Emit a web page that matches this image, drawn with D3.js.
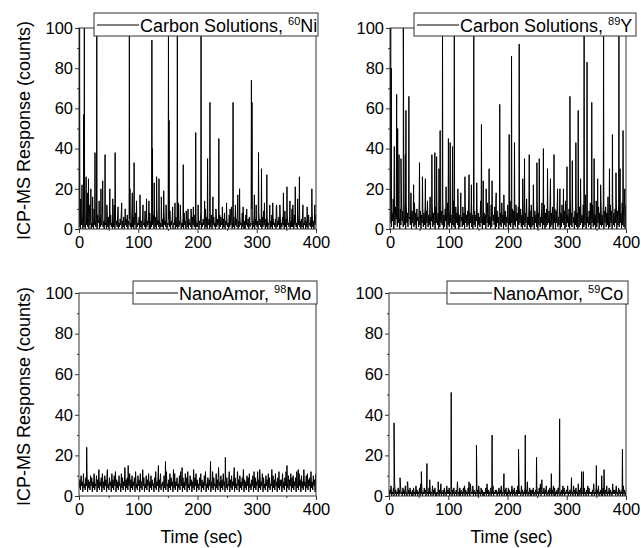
<!DOCTYPE html>
<html><head><meta charset="utf-8">
<script src="https://cdn.jsdelivr.net/npm/d3@7"></script>
<style>body{margin:0;background:#fff}svg{display:block}text{font-family:"Liberation Sans",Arial,sans-serif;fill:#000}</style>
</head><body><svg id="c" width="641" height="548"></svg>
<script>
// ---- data (seconds, counts) ----
const yTicks = [0,20,40,60,80,100];
const yMinor = [10,30,50,70,90];
const xTicks = [0,100,200,300,400];
const xMinor = [50,150,250,350];
const baseStep = 1; // baseline sample spacing in seconds

const niBase = [
1,5,0,3,2,7,0,4,1,9,0,3,2,6,1,4,0,8,2,5, 0,3,1,6,0,10,2,4,1,5,0,7,3,4,0,6,1,3,2,8,
1,4,0,5,2,3,0,9,1,6,0,4,2,7,1,3,0,5,1,12, 0,6,2,4,1,8,0,3,1,5,2,9,0,4,1,6,0,3,2,5,
1,7,0,4,2,5,1,3,0,11,1,6,0,4,2,8,0,5,1,3, 2,6,0,5,1,4,0,7,2,3,1,9,0,5,1,4,2,6,0,8,
0,4,1,3,2,7,0,5,1,6,0,10,2,4,1,5,0,3,1,7, 1,5,0,8,2,4,1,6,0,3,2,5,1,9,0,4,2,6,0,3,
2,4,0,6,1,5,0,13,1,4,2,7,0,3,1,5,0,8,2,4, 0,7,1,4,0,5,2,3,1,9,0,6,2,4,1,7,0,5,1,3,
1,6,0,4,2,8,0,3,1,5,2,4,0,10,1,6,0,3,2,5, 0,5,1,7,0,4,2,6,1,3,0,9,1,5,2,4,0,7,1,6,
2,3,0,5,1,8,0,4,2,6,1,3,0,7,1,5,2,11,0,4, 1,6,0,3,2,5,1,9,0,4,1,6,2,3,0,8,1,5,0,4,
0,7,2,4,1,5,0,6,1,3,2,10,0,4,1,7,0,5,2,3, 1,4,0,8,2,5,1,3,0,6,1,9,2,4,0,5,1,7,0,3,
2,5,0,4,1,7,0,6,2,3,1,5,0,12,1,4,2,6,0,8, 0,3,1,6,2,4,0,9,1,5,0,7,2,3,1,6,0,4,1,10,
1,5,0,7,2,4,1,3,0,8,2,6,1,4,0,5,1,9,0,3, 2,6,0,4,1,5,0,7,2,3,1,6,0,9,1,4,0,5,2,7];
const niSpikes = [[1,100],[3,15],[5,22],[8,57],[9,100],[12,26],[14,18],[16,25],[18,12],[20,20],[23,16],[27,38],[30,100],
 [34,14],[37,20],[40,24],[44,37],[47,12],[52,20],[57,15],[61,38],[66,11],[72,13],[78,10],
 [85,100],[86,20],[90,18],[93,33],[97,14],[103,17],[108,12],[114,15],[118,14],[123,94],[124,40],[127,23],[131,26],[135,25],
 [139,16],[143,19],[147,12],[151,100],[152,54],[158,11],[162,13],
 [166,100],[171,12],[176,32],[181,9],[184,10],[189,10],[193,11],[197,48],[201,12],[206,100],[212,14],[217,35],[221,63],
 [226,16],[231,10],[236,45],[242,11],[249,13],[255,10],[260,63],[264,12],[268,17],[271,20],[277,11],[283,10],[291,74],
 [292,63],[296,17],[299,12],[303,38],[308,30],[313,13],[317,27],[322,12],[327,13],[333,11],[339,12],[345,18],[351,21],
 [356,14],[361,12],[365,21],[369,15],[372,26],[378,12],[385,11],[393,20],[398,12]];

const yBase = [
3,12,1,8,4,15,0,9,2,11,5,7,1,14,3,6,0,10,2,13, 4,9,1,16,2,7,0,12,3,8,1,11,5,6,2,18,0,9,3,7,
1,13,2,8,0,10,4,6,1,14,2,9,0,7,3,12,1,8,2,11, 0,9,3,14,1,7,2,10,0,6,4,13,1,8,2,9,0,11,3,7,
2,8,0,12,1,6,3,9,2,15,0,7,1,10,4,8,0,13,2,6, 1,10,3,7,0,9,2,14,1,6,0,11,3,8,2,12,0,7,1,9,
4,6,1,11,2,8,0,13,3,7,1,9,2,16,0,8,3,10,1,7, 0,12,2,9,1,7,4,11,0,8,2,6,1,14,3,9,0,10,2,8,
2,7,0,10,3,13,1,8,2,6,0,12,1,9,4,7,2,11,0,15, 1,9,3,6,0,11,2,8,1,13,3,7,0,10,2,9,1,6,3,12,
0,8,2,14,1,7,3,10,0,9,2,6,1,12,4,8,0,11,2,7, 3,10,1,7,0,13,2,9,1,8,3,15,0,6,2,11,1,9,0,12,
1,6,2,11,0,9,3,7,1,14,0,8,2,10,1,6,3,13,0,9, 2,12,0,8,1,10,2,7,3,9,0,16,1,8,2,11,0,7,3,10,
0,9,3,13,1,6,2,11,0,8,1,12,3,7,2,9,0,14,1,8, 3,7,1,10,0,15,2,8,1,11,3,6,0,9,2,13,1,8,0,10,
1,11,2,9,3,7,0,12,1,8,2,17,0,10,3,6,1,9,2,13, 0,8,3,12,1,10,2,7,0,14,1,9,3,11,0,8,2,15,1,7,
2,13,0,9,3,11,1,8,2,16,0,10,1,12,3,9,0,14,2,8, 1,10,3,15,0,9,2,12,1,18,3,8,0,13,2,11,1,16,0,12];
const ySpikes = [[0.5,32],[1.2,100],[2.3,80],[7.3,41],[11.3,67],[13,50],[15.3,37],[18.6,35],[22.6,100],[26,37],[27,59],
 [32,66],[40,22],[50,33],[55,26],[60,25],[68,16],[71,37],[76,38],[79,36],[83,30],[85,49],[89,100],[95,21],[99,45],
 [102,43],[106,41],[109,100],[115,20],[120,18],[127,26],[134,27],[138,22],[142,100],[147,23],[155,52],[158,24],
 [163,20],[168,30],[173,24],[180,18],[186,62],[193,17],[202,47],[206,86],[211,43],[219,92],[225,25],[228,35],
 [236,37],[243,22],[249,33],[253,35],[260,40],[267,30],[272,25],[278,37],[284,20],[288,20],[294,20],[300,31],
 [305,66],[309,34],[315,43],[319,59],[323,25],[329,100],[334,83],[342,63],[346,35],[352,25],[357,22],[362,100],
 [372,30],[377,47],[383,28],[388,100],[390,30],[395,49],[398,20]];

const moBase = [
4,8,3,10,5,7,2,11,4,6,3,9,5,12,2,8,4,7,3,10, 5,9,2,7,4,11,3,6,5,10,2,8,4,13,3,7,5,9,2,11,
4,7,3,10,5,8,2,12,4,6,3,9,5,7,2,11,4,8,3,10, 5,12,2,8,4,7,3,10,5,6,2,11,4,9,3,7,5,14,2,8,
4,9,3,6,5,11,2,8,4,10,3,7,5,9,2,12,4,6,3,10, 5,8,2,11,4,7,3,13,5,9,2,6,4,10,3,8,5,11,2,7,
4,10,3,8,5,6,2,9,4,12,3,7,5,10,2,8,4,11,3,6, 5,7,2,10,4,9,3,12,5,6,2,8,4,11,3,9,5,7,2,13,
4,11,3,7,5,9,2,6,4,10,3,12,5,8,2,9,4,7,3,11, 5,9,2,12,4,6,3,10,5,8,2,7,4,13,3,9,5,11,2,8,
4,6,3,9,5,11,2,8,4,7,3,10,5,12,2,6,4,9,3,8, 5,10,2,7,4,12,3,9,5,6,2,11,4,8,3,14,5,7,2,10,
4,8,3,11,5,7,2,10,4,9,3,6,5,12,2,8,4,10,3,7, 5,11,2,9,4,6,3,12,5,8,2,10,4,7,3,9,5,13,2,8,
4,7,3,10,5,9,2,11,4,6,3,8,5,10,2,12,4,9,3,7, 5,12,2,8,4,10,3,7,5,11,2,9,4,6,3,10,5,8,2,11,
4,9,3,6,5,13,2,10,4,8,3,11,5,7,2,9,4,12,3,8, 5,8,2,11,4,7,3,9,5,12,2,6,4,10,3,8,5,11,2,9,
4,10,3,7,5,9,2,12,4,6,3,11,5,8,2,10,4,7,3,13, 5,7,2,10,4,11,3,8,5,9,2,12,4,7,3,10,5,8,2,11];
const moSpikes = [[13,24],[48,13],[83,15],[134,15],[146,17],[174,14],[222,17],[247,19],[262,14],[305,13],[351,15],[370,13]];

const coBase = [
0,3,1,5,0,2,1,4,0,6,1,3,0,2,1,4,0,3,1,5, 1,2,0,4,1,3,0,5,1,2,0,7,1,3,0,4,1,2,0,3,
0,4,1,2,0,5,1,3,0,2,1,4,0,6,1,3,0,2,1,4, 1,3,0,5,1,2,0,4,1,3,0,2,1,5,0,3,1,4,0,2,
0,2,1,4,0,3,1,6,0,2,1,3,0,4,1,2,0,5,1,3, 1,4,0,2,1,5,0,3,1,4,0,2,1,3,0,7,1,2,0,4,
0,3,1,2,0,4,1,5,0,3,1,2,0,4,1,3,0,6,1,2, 1,5,0,3,1,2,0,4,1,3,0,5,1,2,0,4,1,3,0,2,
0,2,1,4,0,6,1,3,0,2,1,4,0,3,1,5,0,2,1,3, 1,3,0,2,1,4,0,3,1,5,0,2,1,6,0,3,1,4,0,2,
0,4,1,3,0,2,1,5,0,3,1,4,0,2,1,3,0,5,1,4, 1,2,0,5,1,3,0,2,1,4,0,3,1,7,0,2,1,4,0,3,
0,3,1,4,0,2,1,3,0,5,1,2,0,4,1,6,0,3,1,2, 1,4,0,3,1,5,0,2,1,3,0,4,1,2,0,3,1,5,0,4,
0,2,1,3,0,4,1,6,0,2,1,3,0,5,1,4,0,2,1,3, 1,5,0,2,1,3,0,4,1,2,0,5,1,3,0,4,1,2,0,6,
0,3,1,4,0,2,1,3,0,4,1,2,0,3,1,5,0,4,1,2, 1,2,0,3,1,6,0,2,1,4,0,3,1,5,0,2,1,3,0,4,
0,4,1,2,0,3,1,5,0,2,1,4,0,3,1,2,0,6,1,3, 1,3,0,5,1,2,0,4,1,3,0,2,1,4,0,5,1,3,0,2];
const coSpikes = [[8.5,36],[18.6,9],[31,7],[54.6,12],[64,16],[68.7,8],[83,7],[105,51],[135,7],[147.6,25],[174,30],
 [194,11],[218.6,23],[230,30],[249,19],[258,8],[274,11],[288,38],[308,9],[325,12],[328,12],[350,15],[359,10],[363,13],[394,23]];

const labels = [["Carbon Solutions, ","60","Ni"],["Carbon Solutions, ","89","Y"],["NanoAmor, ","98","Mo"],["NanoAmor, ","59","Co"]];

// ---- layout ----
const panels = [
 {base:niBase, spikes:niSpikes, lab:labels[0], x0:79, x1:316, y0:28, y1:229, leg:[94,13,224,23], yl:true, xl:false},
 {base:yBase,  spikes:ySpikes,  lab:labels[1], x0:390,x1:626, y0:28, y1:229, leg:[414,13,222,23], yl:false,xl:false},
 {base:moBase, spikes:moSpikes, lab:labels[2], x0:79, x1:316, y0:293,y1:496, leg:[133,281,184,23], yl:true, xl:true},
 {base:coBase, spikes:coSpikes, lab:labels[3], x0:389,x1:626, y0:293,y1:496, leg:[447,281,181,23], yl:false,xl:true}
];

const svg = d3.select("#c");
panels.forEach((p,i)=>{
  const x = d3.scaleLinear().domain([0,400]).range([p.x0,p.x1]);
  const y = d3.scaleLinear().domain([0,100]).range([p.y1,p.y0]);
  const pts = p.base.map((v,k)=>[k*baseStep+0.5,v]).concat(p.spikes).sort((a,b)=>a[0]-b[0]);
  const cid = "clip"+i;
  svg.append("clipPath").attr("id",cid).append("rect")
    .attr("x",p.x0).attr("y",p.y0).attr("width",p.x1-p.x0).attr("height",p.y1-p.y0);
  svg.append("path").datum(pts).attr("clip-path",`url(#${cid})`)
    .attr("fill","none").attr("stroke","#000").attr("stroke-width",1)
    .attr("d",d3.line().x(d=>x(d[0])).y(d=>y(Math.min(100,d[1]))));
  // frame
  svg.append("rect").attr("x",p.x0).attr("y",p.y0).attr("width",p.x1-p.x0).attr("height",p.y1-p.y0)
    .attr("fill","none").attr("stroke","#333").attr("stroke-width",1);
  // axes
  const ga = svg.append("g").attr("transform",`translate(${p.x0},0)`)
    .call(d3.axisLeft(y).tickValues(yTicks).tickSize(4).tickSizeOuter(0).tickPadding(2));
  const gm = svg.append("g").attr("transform",`translate(${p.x0},0)`)
    .call(d3.axisLeft(y).tickValues(yMinor).tickSize(2).tickSizeOuter(0).tickFormat(""));
  const gx = svg.append("g").attr("transform",`translate(0,${p.y1})`)
    .call(d3.axisBottom(x).tickValues(xTicks).tickSize(4).tickSizeOuter(0).tickPadding(3));
  const gxm = svg.append("g").attr("transform",`translate(0,${p.y1})`)
    .call(d3.axisBottom(x).tickValues(xMinor).tickSize(2).tickSizeOuter(0).tickFormat(""));
  [ga,gm,gx,gxm].forEach(g=>{g.select(".domain").remove(); g.selectAll("line").attr("stroke","#333");
    g.selectAll("text").style("font-size","16.5px").style("font-family","'Liberation Sans',Arial,sans-serif").attr("fill","#000");});
  // legend
  const [lx,ly,lw,lh] = p.leg;
  svg.append("rect").attr("x",lx).attr("y",ly).attr("width",lw).attr("height",lh)
    .attr("fill","#fff").attr("stroke","#333").attr("stroke-width",1);
  svg.append("line").attr("x1",lx+3).attr("x2",lx+45).attr("y1",ly+lh/2+0.5).attr("y2",ly+lh/2+0.5)
    .attr("stroke","#000").attr("stroke-width",1);
  const t = svg.append("text").attr("x",lx+46).attr("y",ly+19).style("font-size","18px");
  t.append("tspan").text(p.lab[0]);
  t.append("tspan").attr("dy",-7).style("font-size","11px").text(p.lab[1]);
  t.append("tspan").attr("dy",7).text(p.lab[2]);
  if(p.yl){
    svg.append("text").attr("transform",`translate(30,${(p.y0+p.y1)/2+2}) rotate(-90)`)
      .attr("text-anchor","middle").style("font-size","18px").text("ICP-MS Response (counts)");
  }
  if(p.xl){
    svg.append("text").attr("x",(p.x0+p.x1)/2+4).attr("y",543).attr("text-anchor","middle")
      .style("font-size","17.5px").text("Time (sec)");
  }
});
</script></body></html>
